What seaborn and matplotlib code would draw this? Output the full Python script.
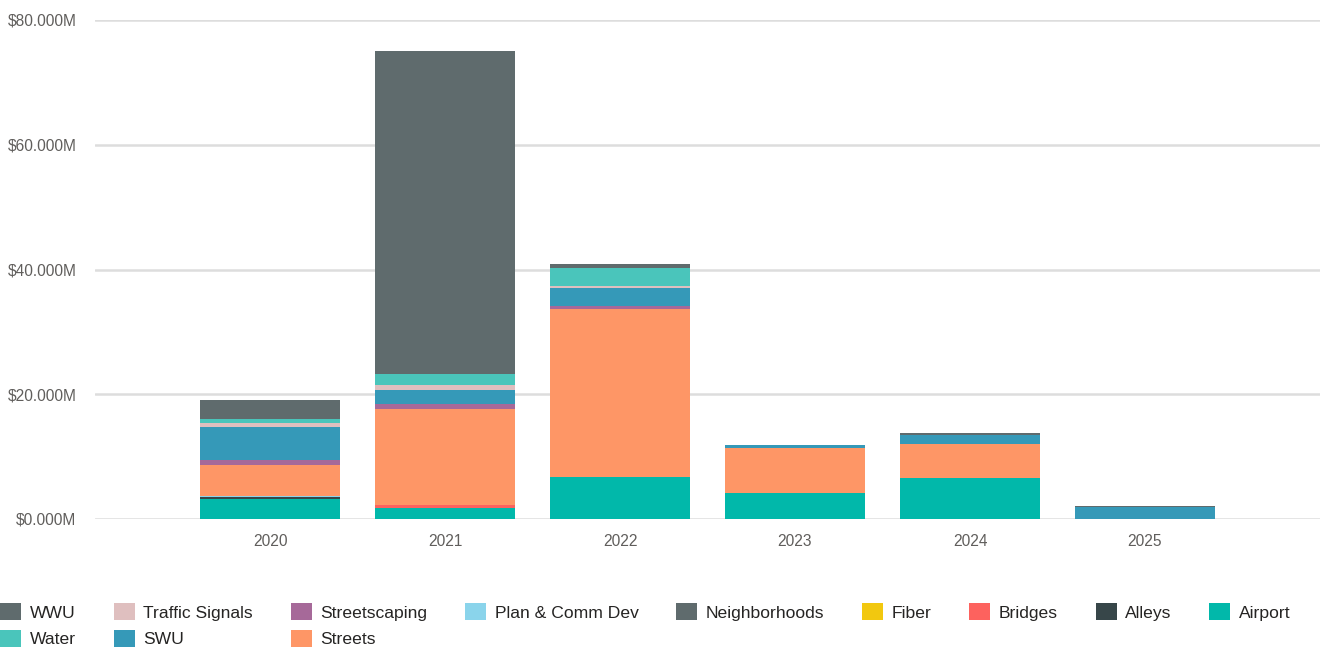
import matplotlib
matplotlib.use("Agg")
import matplotlib.pyplot as plt
from matplotlib.patches import Patch
from matplotlib.ticker import FuncFormatter
import seaborn as sns
import numpy as np
import pandas as pd

years = ["2020", "2021", "2022", "2023", "2024", "2025"]

# stacking order bottom -> top
series_names = ["Airport", "Alleys", "Bridges", "Fiber", "Neighborhoods",
                "Plan & Comm Dev", "Streets", "Streetscaping", "SWU",
                "Traffic Signals", "Water", "WWU"]
airport = [3.16, 1.70, 6.78, 4.20, 6.57, 0.0]
alleys = [0.30, 0.0, 0.0, 0.0, 0.0, 0.0]
bridges = [0.0, 0.48, 0.0, 0.0, 0.0, 0.0]
fiber = [0.0, 0.0, 0.0, 0.0, 0.0, 0.0]
neighborhoods = [0.0, 0.0, 0.0, 0.0, 0.0, 0.0]
plan_comm_dev = [0.15, 0.0, 0.0, 0.0, 0.0, 0.0]
streets = [5.07, 15.40, 26.90, 7.17, 5.45, 0.0]
streetscaping = [0.75, 0.91, 0.48, 0.0, 0.0, 0.0]
swu = [5.34, 2.24, 2.89, 0.43, 1.44, 1.90]
traffic_signals = [0.55, 0.74, 0.32, 0.0, 0.0, 0.0]
water = [0.69, 1.70, 2.84, 0.0, 0.0, 0.0]
wwu = [3.00, 51.90, 0.69, 0.0, 0.37, 0.20]

series_values = [airport, alleys, bridges, fiber, neighborhoods, plan_comm_dev,
                 streets, streetscaping, swu, traffic_signals, water, wwu]
colors = ["#01B8AA", "#374649", "#FD625E", "#F2C80F", "#5F6B6D", "#8AD4EB",
          "#FE9666", "#A66999", "#3599B8", "#DFBFBF", "#4AC5BB", "#5F6B6D"]

sns.set_theme(style="white")
plt.rcParams['font.family'] = ['Liberation Sans', 'DejaVu Sans']

fig = plt.figure(figsize=(13.24, 6.49), dpi=100)
ax = fig.add_axes([95/1324, 1 - 519/649, (1320-95)/1324, (519-20)/649])

cum = np.cumsum(np.array(series_values), axis=0)
# draw from top of stack down so lower segments overwrite
for i in range(len(series_names) - 1, -1, -1):
    df = pd.DataFrame({"year": years, "value": cum[i]})
    sns.barplot(data=df, x="year", y="value", color=colors[i], saturation=1,
                width=0.8, errorbar=None, linewidth=0, ax=ax, order=years)

ax.set_xlim(-1, 6)
ax.set_ylim(0, 80)
ax.set_yticks([0, 20, 40, 60, 80])
ax.yaxis.set_major_formatter(FuncFormatter(lambda v, p: f"${v:.3f}M"))
ax.set_xlabel("")
ax.set_ylabel("")
for s in ax.spines.values():
    s.set_visible(False)
ax.grid(axis="y", color="#dddddd", linewidth=1.8)
ax.grid(axis="x", visible=False)
ax.set_axisbelow(True)
ax.tick_params(axis="y", length=0, pad=13.5, labelsize=11.2, labelcolor="#605E5C")
ax.tick_params(axis="x", length=0, pad=11, labelsize=11.2, labelcolor="#605E5C")

legend_order = ["WWU", "Water", "Traffic Signals", "SWU", "Streetscaping", "Streets",
                "Plan & Comm Dev", "Neighborhoods", "Fiber", "Bridges", "Alleys", "Airport"]
handles = [Patch(facecolor=colors[series_names.index(n)], edgecolor="none", label=n)
           for n in legend_order]
fig.legend(handles=handles, loc="upper left", bbox_to_anchor=(0.0, 1 - 603/649),
           ncol=9, frameon=False, fontsize=12.6, handlelength=1.2, handleheight=1.15,
           handletextpad=0.5, columnspacing=2.15, labelspacing=0.52, borderpad=0,
           borderaxespad=0, labelcolor="#252423")

fig.savefig("out.png", dpi=100)
